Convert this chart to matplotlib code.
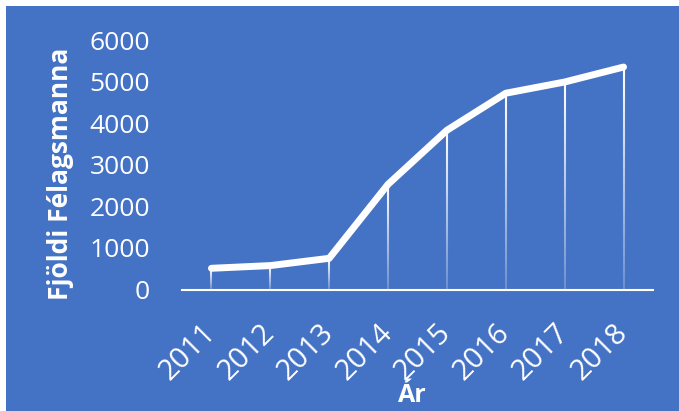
import numpy as np
import matplotlib
matplotlib.use("Agg")
import matplotlib.pyplot as plt
from matplotlib.collections import LineCollection
from matplotlib.patches import Rectangle

# data
years = ["2011", "2012", "2013", "2014", "2015", "2016", "2017", "2018"]
members = [510, 575, 750, 2530, 3830, 4720, 4990, 5350]

BLUE = "#4472C4"

plt.rcParams['font.family'] = ['Open Sans', 'DejaVu Sans']

fig = plt.figure(figsize=(6.79, 4.11), dpi=100)
fig.patch.set_facecolor("white")
# blue chart area with a thin white margin top/left
fig.patches.append(Rectangle((6 / 679, 0), 1, 1 - 6 / 411, transform=fig.transFigure,
                             facecolor=BLUE, edgecolor="none", zorder=-10))

ax = fig.add_axes([182 / 679, 1 - 289.5 / 411, 471 / 679, 249.5 / 411])
ax.set_facecolor("none")

x = np.arange(len(years))

# drop lines fading from white to transparent
segs = []
cols = []
n = 40
for xi, v in zip(x, members):
    ys = np.linspace(v, 0, n + 1)
    for k in range(n):
        segs.append([(xi, ys[k]), (xi, ys[k + 1])])
        cols.append((1, 1, 1, 1 - 0.8 * k / n))
ax.add_collection(LineCollection(segs, colors=cols, linewidths=1.5, zorder=2))

ax.plot(x, members, color="white", linewidth=5, solid_capstyle="round",
        solid_joinstyle="round", zorder=3)

ax.set_xlim(-0.5, len(years) - 0.5)
ax.set_ylim(0, 6000)
ax.set_yticks(range(0, 6001, 1000))
ax.set_xticks(x)
ax.set_xticklabels(years, rotation=45, ha="right", va="center", rotation_mode="anchor")

for s in ["top", "right", "left"]:
    ax.spines[s].set_visible(False)
ax.spines["bottom"].set_color("white")
ax.spines["bottom"].set_linewidth(1.5)

ax.tick_params(axis="y", length=0, pad=23, labelsize=19, labelcolor="white")
ax.tick_params(axis="x", length=0, pad=28, labelsize=21, labelcolor="white")

ax.set_ylabel("Fjöldi Félagsmanna", color="white", fontsize=19, fontweight="bold",
              va="center", ha="center")
ax.yaxis.set_label_coords(-0.259, 0.465)
ax.set_xlabel("Ár", color="white", fontsize=18, fontweight="bold", va="center", ha="center")
ax.xaxis.set_label_coords(0.49, -0.425)

fig.savefig("out.png", dpi=100, facecolor=fig.get_facecolor())
